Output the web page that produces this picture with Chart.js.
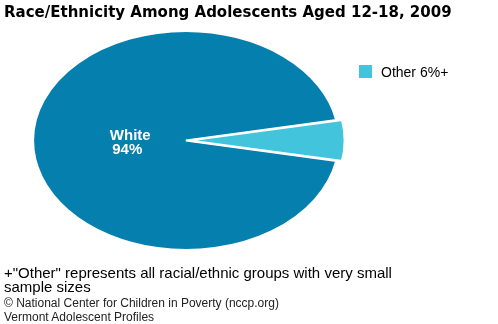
<!DOCTYPE html>
<html lang="en">
<head>
    <meta charset="UTF-8">
    <title>Race/Ethnicity Among Adolescents</title>
    <script src="https://cdn.jsdelivr.net/npm/chart.js"></script>
    <style>
        html, body {
            margin: 0;
            padding: 0;
            background: #fff;
        }
        body {
            width: 498px;
            height: 324px;
            position: relative;
            overflow: hidden;
            font-family: 'Liberation Sans', sans-serif;
            color: #000;
        }
        #chart {
            position: absolute;
            left: 0;
            top: 0;
        }
        .title {
            position: absolute;
            left: 4px;
            top: 3px;
            font-family: 'DejaVu Sans', sans-serif;
            font-size: 15px;
            font-weight: bold;
            white-space: nowrap;
        }
        .legend {
            position: absolute;
            left: 359px;
            top: 64px;
            font-size: 14px;
            white-space: nowrap;
        }
        .legend .box {
            display: inline-block;
            width: 13px;
            height: 13px;
            vertical-align: -1px;
            margin-right: 9px;
        }
        .note {
            position: absolute;
            left: 4px;
            top: 266px;
            font-size: 15px;
            line-height: 14px;
            width: 410px;
        }
        .source {
            position: absolute;
            left: 4px;
            top: 296px;
            font-size: 12px;
            line-height: 14px;
            color: #222;
        }
    </style>
</head>
<body>
    <canvas id="chart" width="498" height="324"></canvas>
    <div class="title">Race/Ethnicity Among Adolescents Aged 12-18, 2009</div>
    <div class="legend" id="legend"></div>
    <div class="note">+"Other" represents all racial/ethnic groups with very small sample sizes</div>
    <div class="source">© National Center for Children in Poverty (nccp.org)<br>Vermont Adolescent Profiles</div>

    <script>
        const labels = ['White', 'Other'];
        const values = [94, 6];
        const colors = ['#0580ae', '#42c4dc'];
        const legendLabels = ['Other 6%+'];

        // stretch the round pie into the flat ellipse of the original
        const STRETCH_X = 1.4;

        const ellipsePlugin = {
            id: 'ellipse',
            beforeDatasetsDraw(chart) {
                const arc = chart.getDatasetMeta(0).data[0];
                const ctx = chart.ctx;
                ctx.save();
                ctx.translate(arc.x, arc.y);
                ctx.scale(STRETCH_X, 1);
                ctx.translate(-arc.x, -arc.y);
            },
            afterDatasetsDraw(chart) {
                const ctx = chart.ctx;
                ctx.restore();

                // label inside the White slice
                const arc = chart.getDatasetMeta(0).data[0];
                const mid = (arc.startAngle + arc.endAngle) / 2;
                const r = arc.outerRadius * 0.37;
                const x = arc.x + Math.cos(mid) * r * STRETCH_X;
                const y = arc.y + Math.sin(mid) * r;
                ctx.save();
                ctx.fillStyle = '#fff';
                ctx.textAlign = 'center';
                ctx.font = 'bold 15px "Liberation Sans", sans-serif';
                ctx.fillText(labels[0], x + 1, y - 1);
                ctx.font = 'bold 15px "Liberation Sans", sans-serif';
                ctx.fillText(values[0] + '%', x - 2, y + 13);
                ctx.restore();
            }
        };

        new Chart(document.getElementById('chart'), {
            type: 'pie',
            data: {
                labels: labels,
                datasets: [{
                    data: values,
                    backgroundColor: colors,
                    borderColor: '#fff',
                    borderWidth: 2,
                    offset: [0, 10]
                }]
            },
            options: {
                responsive: false,
                animation: false,
                rotation: 100.8,
                radius: 109.5,
                layout: { padding: { left: 0, right: 126, top: 1, bottom: 44 } },
                plugins: {
                    legend: { display: false },
                    tooltip: { enabled: false }
                }
            },
            plugins: [ellipsePlugin]
        });

        document.getElementById('legend').innerHTML =
            '<span class="box" style="background:' + colors[1] + '"></span>' + legendLabels[0];
    </script>
</body>
</html>
